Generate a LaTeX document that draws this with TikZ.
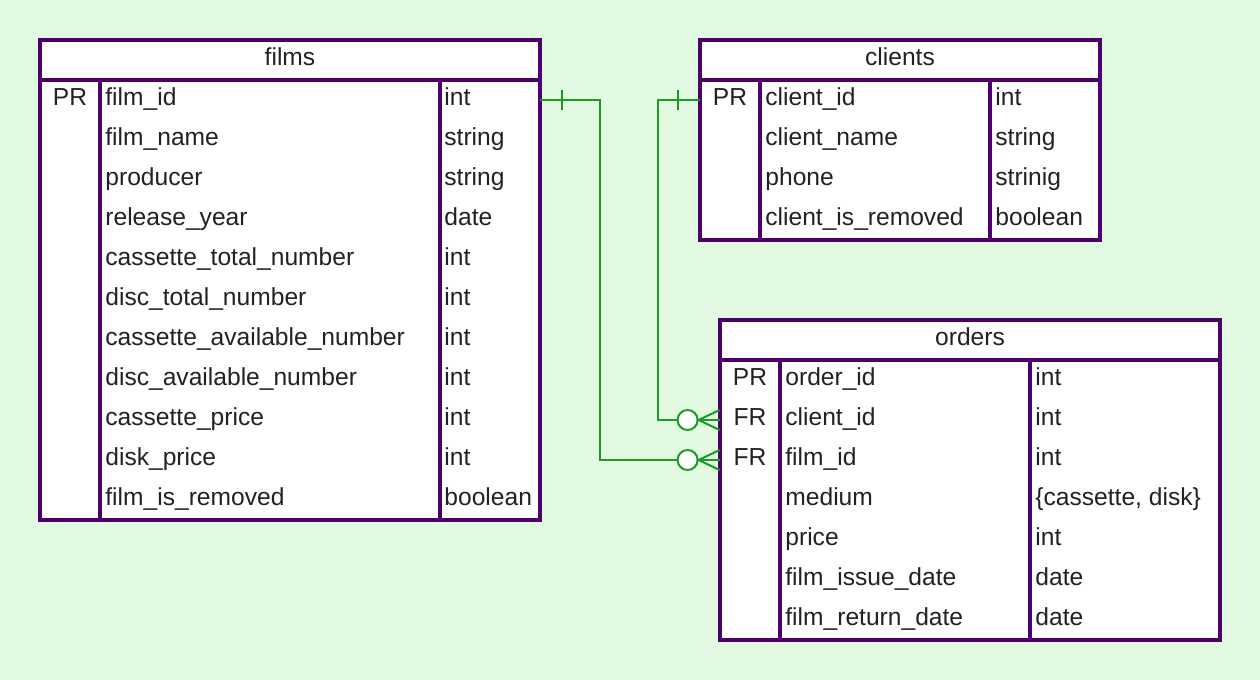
\documentclass[tikz,border=0pt]{standalone}
\usepackage{fontspec}
\setmainfont{Liberation Sans}
\usetikzlibrary{positioning, calc}

\definecolor{bgcol}{RGB}{226,249,226}
\definecolor{frame}{RGB}{76,0,108}
\definecolor{rel}{RGB}{26,156,36}
\definecolor{ink}{RGB}{34,34,38}

\begin{document}
\begin{tikzpicture}[
        x=0.5pt, y=-0.5pt,
        table/.style={draw=frame, line width=1.8pt, fill=white},
        grid/.style={draw=frame, line width=1.8pt},
        row/.style={inner sep=0pt, minimum height=20pt},
        txt/.style={inner sep=0pt, anchor=base west, font=\fontsize{12.3}{14}\selectfont, text=ink},
        link/.style={draw=rel, line width=1pt}
    ]

    % Background
    \fill[bgcol] (0,0) rectangle (1260,680);

    % Table films
    \draw[table] (40,40) rectangle (540,520);
    \draw[grid] (40,80) -- (540,80) (100,80) -- (100,520) (440,80) -- (440,520);
    \node[txt, anchor=base] (films) at (290,65) {films};
    \foreach \k/\n/\t [count=\i] in {PR/film\_id/int, {}/film\_name/string, {}/producer/string,
        {}/release\_year/date, {}/cassette\_total\_number/int, {}/disc\_total\_number/int,
        {}/cassette\_available\_number/int, {}/disc\_available\_number/int,
        {}/cassette\_price/int, {}/disk\_price/int, {}/film\_is\_removed/boolean} {
        \node[row, minimum width=250pt] (films-\i) at (290,60+40*\i) {};
        \node[txt, anchor=base] (films-k\i) at (70,65+40*\i) {\k};
        \node[txt] (films-n\i) at (105,65+40*\i) {\n};
        \node[txt] (films-t\i) at (444,65+40*\i) {\t};
    }

    % Table clients
    \draw[table] (700,40) rectangle (1100,240);
    \draw[grid] (700,80) -- (1100,80) (760,80) -- (760,240) (990,80) -- (990,240);
    \node[txt, anchor=base] (clients) at (900,65) {clients};
    \foreach \k/\n/\t [count=\i] in {PR/client\_id/int, {}/client\_name/string,
        {}/phone/strinig, {}/client\_is\_removed/boolean} {
        \node[row, minimum width=200pt] (clients-\i) at (900,60+40*\i) {};
        \node[txt, anchor=base] (clients-k\i) at (730,65+40*\i) {\k};
        \node[txt] (clients-n\i) at (765,65+40*\i) {\n};
        \node[txt] (clients-t\i) at (995,65+40*\i) {\t};
    }

    % Table orders
    \draw[table] (720,320) rectangle (1220,640);
    \draw[grid] (720,360) -- (1220,360) (780,360) -- (780,640) (1030,360) -- (1030,640);
    \node[txt, anchor=base] (orders) at (970,345) {orders};
    \foreach \k/\n/\t [count=\i] in {PR/order\_id/int, FR/client\_id/int, FR/film\_id/int,
        {}/medium/{\{cassette, disk\}}, {}/price/int, {}/film\_issue\_date/date,
        {}/film\_return\_date/date} {
        \node[row, minimum width=250pt] (orders-\i) at (970,340+40*\i) {};
        \node[txt, anchor=base] (orders-k\i) at (750,345+40*\i) {\k};
        \node[txt] (orders-n\i) at (785,345+40*\i) {\n};
        \node[txt] (orders-t\i) at (1035,345+40*\i) {\t};
    }

    % films.film_id -> orders.film_id
    \draw[link] (films-1.east) -- ++(60,0) |- ($(orders-3.west)+(-42,0)$);
    \draw[link] ($(films-1.east)+(22,-10)$) -- ++(0,20);
    \draw[link, fill=white] ($(orders-3.west)+(-32,0)$) circle[radius=5pt];
    \draw[link] ($(orders-3.west)+(-21,0)$) -- (orders-3.west);
    \draw[link] ($(orders-3.west)+(0,-10)$) -- ($(orders-3.west)+(-21,0)$) -- ($(orders-3.west)+(0,10)$);

    % clients.client_id -> orders.client_id
    \draw[link] (clients-1.west) -- ++(-42,0) |- ($(orders-2.west)+(-42,0)$);
    \draw[link] ($(clients-1.west)+(-22,-10)$) -- ++(0,20);
    \draw[link, fill=white] ($(orders-2.west)+(-32,0)$) circle[radius=5pt];
    \draw[link] ($(orders-2.west)+(-21,0)$) -- (orders-2.west);
    \draw[link] ($(orders-2.west)+(0,-10)$) -- ($(orders-2.west)+(-21,0)$) -- ($(orders-2.west)+(0,10)$);

\end{tikzpicture}
\end{document}
